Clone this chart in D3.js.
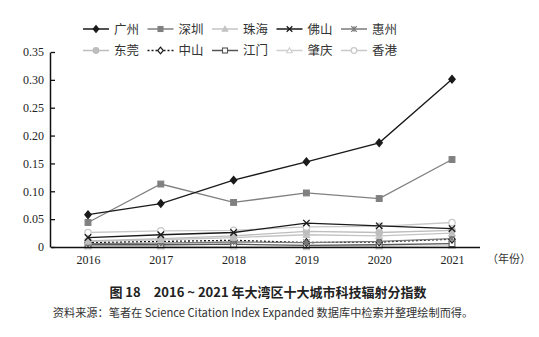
<!DOCTYPE html>
<html><head><meta charset="utf-8">
<script src="https://cdn.jsdelivr.net/npm/d3@7"></script>
<style>
body{margin:0;background:#fff;}
svg{display:block;}
</style></head>
<body><svg id="c" width="539" height="337"></svg>
<script>
const years = ["2016","2017","2018","2019","2020","2021"];
const cities = ["广州","深圳","珠海","佛山","惠州","东莞","中山","江门","肇庆","香港"];
const guangzhou = [0.058,0.078,0.120,0.153,0.187,0.301];
const shenzhen  = [0.044,0.113,0.080,0.097,0.087,0.157];
const zhuhai    = [0.010,0.013,0.017,0.022,0.020,0.025];
const foshan    = [0.017,0.022,0.026,0.043,0.038,0.033];
const huizhou   = [0.006,0.007,0.009,0.008,0.010,0.015];
const dongguan  = [0.011,0.015,0.020,0.028,0.026,0.030];
const zhongshan = [0.008,0.010,0.012,0.008,0.009,0.014];
const jiangmen  = [0.004,0.004,0.005,0.003,0.004,0.006];
const zhaoqing  = [0.001,0.001,0.001,0.000,0.001,0.002];
const hongkong  = [0.026,0.029,0.030,0.036,0.037,0.044];
const yTicks = [0,0.05,0.10,0.15,0.20,0.25,0.30,0.35];
const yTickLabels = ["0","0.05","0.10","0.15","0.20","0.25","0.30","0.35"];

const seriesValues = [guangzhou,shenzhen,zhuhai,foshan,huizhou,dongguan,zhongshan,jiangmen,zhaoqing,hongkong];
const styles = [
  {c:"#1a1a1a", m:"diamond", fill:true},
  {c:"#808080", m:"square", fill:true},
  {c:"#c4c4c4", m:"triangle", fill:true},
  {c:"#1a1a1a", m:"x", fill:false},
  {c:"#7a7a7a", m:"star", fill:false},
  {c:"#bdbdbd", m:"circle", fill:true},
  {c:"#1a1a1a", m:"diamond", fill:false, dash:"2,2"},
  {c:"#555555", m:"square", fill:false},
  {c:"#cfcfcf", m:"triangle", fill:false},
  {c:"#c8c8c8", m:"circle", fill:false}
];

const svg = d3.select("#c");
const x = d3.scalePoint().domain(years).range([88,452]);
const y = d3.scaleLinear().domain([0,0.35]).range([247,52]);

function marker(g, type, cx, cy, col, fill, s){
  s = s || 3.2;
  if(type==="diamond"){
    g.append("path").attr("d",`M${cx},${cy-s-0.6}L${cx+s},${cy}L${cx},${cy+s+0.6}L${cx-s},${cy}Z`)
      .attr("fill",fill?col:"#fff").attr("stroke",col).attr("stroke-width",1.2);
  } else if(type==="square"){
    g.append("rect").attr("x",cx-s+0.3).attr("y",cy-s+0.3).attr("width",2*s-0.6).attr("height",2*s-0.6)
      .attr("fill",fill?col:"#fff").attr("stroke",col).attr("stroke-width",1.1);
  } else if(type==="triangle"){
    g.append("path").attr("d",`M${cx},${cy-s}L${cx+s},${cy+s-0.6}L${cx-s},${cy+s-0.6}Z`)
      .attr("fill",fill?col:"#fff").attr("stroke",col).attr("stroke-width",1.1);
  } else if(type==="circle"){
    g.append("circle").attr("cx",cx).attr("cy",cy).attr("r",s)
      .attr("fill",fill?col:"#fff").attr("stroke",col).attr("stroke-width",1.2);
  } else if(type==="x"){
    g.append("path").attr("d",`M${cx-s},${cy-s}L${cx+s},${cy+s}M${cx+s},${cy-s}L${cx-s},${cy+s}`)
      .attr("stroke",col).attr("stroke-width",1.3);
  } else if(type==="star"){
    g.append("path").attr("d",`M${cx-s},${cy-s}L${cx+s},${cy+s}M${cx+s},${cy-s}L${cx-s},${cy+s}M${cx},${cy-s}L${cx},${cy+s}`)
      .attr("stroke",col).attr("stroke-width",1.2);
  }
}

// axes
const yAxis = d3.axisLeft(y).tickValues(yTicks).tickSize(-4).tickPadding(7)
  .tickFormat((d,i)=>yTickLabels[i]);
const ga = svg.append("g").attr("transform","translate(51,0)").call(yAxis);
ga.select(".domain").attr("d","M-0.5,52.5V247.5").attr("stroke","#111").attr("stroke-width",1.5);
ga.selectAll(".tick line").attr("stroke","#111").attr("stroke-width",1.3);
ga.selectAll("text").attr("font-family","'Liberation Serif',serif").attr("font-size",12).attr("fill","#222");

// series
const line = d3.line().x((d,i)=>x(years[i])).y(d=>y(d));
const order = [8,7,6,4,2,5,9,3,1,0];
order.forEach(k=>{
  const st = styles[k];
  const g = svg.append("g");
  g.append("path").datum(seriesValues[k]).attr("d",line).attr("fill","none")
   .attr("stroke",st.c).attr("stroke-width",1.3).attr("stroke-dasharray",st.dash||null);
  seriesValues[k].forEach((v,i)=>marker(g,st.m,x(years[i]),y(v),st.c,st.fill));
});

// x axis
const xAxis = d3.axisBottom(x).tickSize(0).tickPadding(8);
const gx = svg.append("g").attr("transform","translate(0,247)").call(xAxis);
gx.select(".domain").attr("d","M51,0.5H480").attr("stroke","#111").attr("stroke-width",1.6);
gx.selectAll("text").attr("font-family","'Liberation Serif',serif").attr("font-size",12).attr("fill","#222");
svg.append("text").attr("x",487).attr("y",263).attr("font-family","'Noto Sans CJK SC',sans-serif")
  .attr("font-size",11).attr("fill","#333").text("（年份）");

// legend
cities.forEach((name,k)=>{
  const st = styles[k];
  const col = k%5, row = Math.floor(k/5);
  const lx = 83 + col*64.5, ly = 29 + row*21.5;
  const g = svg.append("g");
  g.append("line").attr("x1",lx).attr("x2",lx+26).attr("y1",ly).attr("y2",ly)
   .attr("stroke",st.c).attr("stroke-width",1.5).attr("stroke-dasharray",st.dash||null);
  marker(g,st.m,lx+13,ly,st.c,st.fill,2.8);
  g.append("text").attr("x",lx+31).attr("y",ly+4.5).attr("font-family","'Noto Sans CJK SC',sans-serif")
   .attr("font-size",12.5).attr("fill","#333").text(name);
});

// title & note
svg.append("text").attr("x",268).attr("y",297).attr("text-anchor","middle")
  .attr("font-family","'Noto Sans CJK SC',sans-serif").attr("font-weight","bold").attr("font-size",13).attr("fill","#222")
  .text("图 18　2016 ~ 2021 年大湾区十大城市科技辐射分指数");
svg.append("text").attr("x",263).attr("y",317).attr("text-anchor","middle")
  .attr("font-family","'Noto Sans CJK SC',sans-serif").attr("font-size",11.2).attr("fill","#333")
  .text("资料来源：笔者在 Science Citation Index Expanded 数据库中检索并整理绘制而得。");
</script></body></html>
